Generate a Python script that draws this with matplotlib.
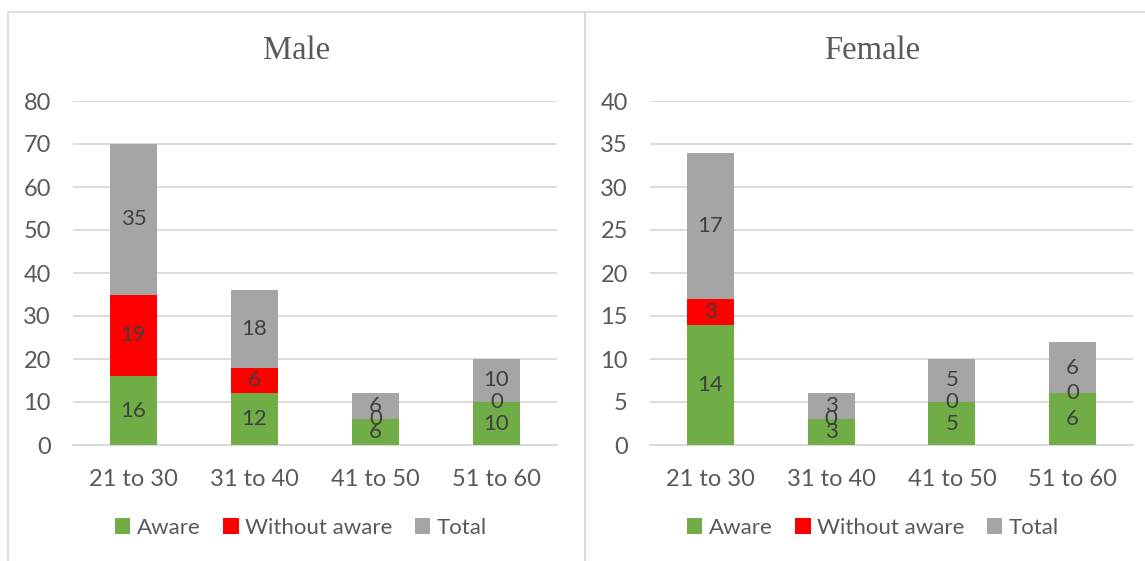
import matplotlib
matplotlib.use("Agg")
import matplotlib.pyplot as plt
from matplotlib.patches import Rectangle, Patch

# age groups and awareness counts per gender
age_groups = ["21 to 30", "31 to 40", "41 to 50", "51 to 60"]
series_names = ["Aware", "Without aware", "Total"]

male_aware = [16, 12, 6, 10]
male_without = [19, 6, 0, 0]
male_total = [35, 18, 6, 10]

female_aware = [14, 3, 5, 6]
female_without = [3, 0, 0, 0]
female_total = [17, 3, 5, 6]

colors = ["#70ad47", "#ff0000", "#a5a5a5"]
grid_col = "#d9d9d9"
tick_col = "#595959"
label_col = "#404040"

plt.rcParams["font.family"] = ["Lato", "DejaVu Sans"]

fig = plt.figure(figsize=(11.45, 5.61), dpi=100)

# chart frames
fig.patches.append(Rectangle((8 / 1145, -0.01), 577 / 1145, 1 - 12 / 561 + 0.01,
                             transform=fig.transFigure, fill=False,
                             edgecolor=grid_col, linewidth=1.2))
fig.patches.append(Rectangle((585 / 1145, -0.01), 0.6, 1 - 12 / 561 + 0.01,
                             transform=fig.transFigure, fill=False,
                             edgecolor=grid_col, linewidth=1.2))


def draw_panel(rect, title, title_x, legend_x, series, ymax, ystep):
    ax = fig.add_axes(rect)
    x = range(len(age_groups))
    bottom = [0] * len(age_groups)
    for name, vals, col in zip(series_names, series, colors):
        bars = ax.bar(x, vals, width=0.39, bottom=bottom, color=col, label=name, zorder=3)
        # labels sit on top of every segment, even zero-height ones
        for t in ax.bar_label(bars, label_type="center", color=label_col, fontsize=16):
            t.set_zorder(6)
        bottom = [b + v for b, v in zip(bottom, vals)]

    ax.set_xlim(-0.5, len(age_groups) - 0.5)
    ax.set_ylim(0, ymax)
    ax.set_yticks(range(0, ymax + 1, ystep))
    ax.set_xticks(list(x))
    ax.set_xticklabels(age_groups)
    ax.yaxis.grid(True, color=grid_col, linewidth=1.3, zorder=0)
    ax.set_axisbelow(True)
    for s in ["top", "right", "left"]:
        ax.spines[s].set_visible(False)
    ax.spines["bottom"].set_color(grid_col)
    ax.spines["bottom"].set_linewidth(1.3)
    ax.tick_params(axis="both", length=0, colors=tick_col, labelsize=17)
    ax.tick_params(axis="y", pad=16)
    ax.tick_params(axis="x", pad=17)
    ax.set_facecolor("none")

    fig.text(title_x, 1 - 51 / 561, title, ha="center", va="center",
             family="Liberation Serif", fontsize=23.5, color=tick_col)

    handles = [Patch(facecolor=c, edgecolor="none") for c in colors]
    fig.legend(handles, series_names, loc="center", bbox_to_anchor=(legend_x, 1 - 528 / 561),
               ncol=3, frameon=False, fontsize=16, handlelength=0.7, handleheight=0.7,
               handletextpad=0.3, columnspacing=1.0, labelcolor=tick_col)
    return ax


draw_panel([73 / 1145, 1 - 445 / 561, 484 / 1145, 344 / 561], "Male", 297 / 1145, 301 / 1145,
           [male_aware, male_without, male_total], 80, 10)
draw_panel([650 / 1145, 1 - 445 / 561, 483 / 1145, 344 / 561], "Female", 872 / 1145, 873 / 1145,
           [female_aware, female_without, female_total], 40, 5)

fig.savefig("out.png", dpi=100)
